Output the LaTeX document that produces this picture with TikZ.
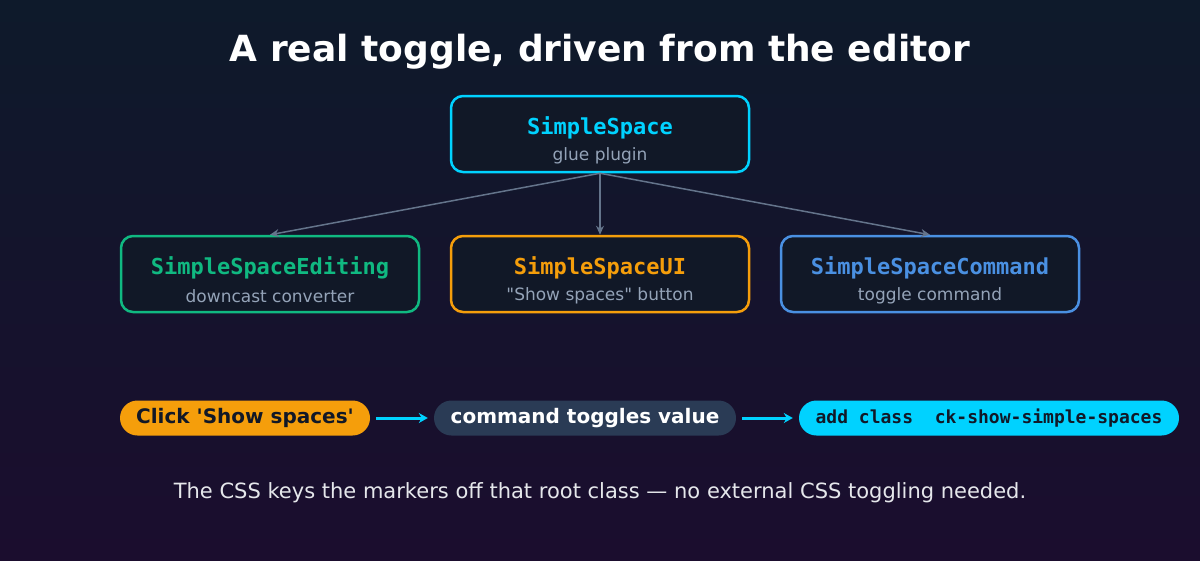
\documentclass[tikz,border=0pt]{standalone}
\usepackage{fontspec}
\setmainfont{DejaVu Sans}[Ligatures=TeXOff]
\newfontfamily\monof{DejaVu Sans Mono}[Ligatures=TeXOff]
\usetikzlibrary{arrows.meta}
\definecolor{bgtop}{HTML}{0E1A2B}
\definecolor{bgbot}{HTML}{1B0D2E}
\definecolor{boxfill}{HTML}{111827}
\definecolor{ccyan}{HTML}{00D2FF}
\definecolor{cgreen}{HTML}{10B981}
\definecolor{corange}{HTML}{F59E0B}
\definecolor{cblue}{HTML}{4A90E2}
\definecolor{cgray}{HTML}{64748B}
\definecolor{csub}{HTML}{94A3B8}
\definecolor{cpill}{HTML}{2A3B55}
\definecolor{cdark}{HTML}{111827}
\definecolor{cfoot}{HTML}{E5E7EB}
\tikzset{
  modbox/.style={draw=#1, line width=2.5pt, fill=boxfill, rounded corners=12pt,
    minimum width=298pt, minimum height=76pt, inner sep=0pt},
  modname/.style={text=#1, font=\monof\bfseries\fontsize{22}{26}\selectfont, inner sep=0pt},
  modsub/.style={text=csub, font=\fontsize{17}{20}\selectfont, inner sep=0pt},
  pill/.style={rounded corners=17.5pt, minimum height=35pt, inner sep=0pt},
  link/.style={draw=cgray, line width=1.5pt, -{Stealth[length=9pt,width=8pt]}},
  flow/.style={draw=ccyan, line width=3pt, -{Stealth[length=9pt,width=10pt]}, shorten <=6pt, shorten >=6pt},
}
\begin{document}
\begin{tikzpicture}[x=1pt,y=-1pt]
\shade[top color=bgtop, bottom color=bgbot] (0pt,0pt) rectangle (1200pt,-560pt);
\useasboundingbox (0,0) rectangle (1200,560);

\node[text=white, font=\bfseries\fontsize{36}{42}\selectfont] (title) at (600,52) {A real toggle, driven from the editor};

\node[modbox=ccyan] (top) at (600,134) {};
\node[modname=ccyan] (topn) at (600,128) {SimpleSpace};
\node[modsub] (tops) at (600,156) {glue plugin};

\node[modbox=cgreen] (edit) at (270,274) {};
\node[modname=cgreen] (editn) at (270,268) {SimpleSpaceEditing};
\node[modsub] (edits) at (270,296) {downcast converter};

\node[modbox=corange] (ui) at (600,274) {};
\node[modname=corange] (uin) at (600,268) {SimpleSpaceUI};
\node[modsub] (uis) at (600,296) {"Show spaces" button};

\node[modbox=cblue] (cmd) at (930,274) {};
\node[modname=cblue] (cmdn) at (930,268) {SimpleSpaceCommand};
\node[modsub] (cmds) at (930,296) {toggle command};

\draw[link] (top.south) -- (edit.north);
\draw[link] (top.south) -- (ui.north);
\draw[link] (top.south) -- (cmd.north);

\node[pill, fill=corange, minimum width=250pt, text=cdark, font=\bfseries\fontsize{20}{24}\selectfont] (p1) at (245,418) {Click 'Show spaces'};
\node[pill, fill=cpill, minimum width=302pt, text=white, font=\bfseries\fontsize{20}{24}\selectfont] (p2) at (585,418) {command toggles value};
\node[pill, fill=ccyan, minimum width=380pt, text=cdark, font=\monof\bfseries\fontsize{18}{22}\selectfont] (p3) at (989,418) {add class\ \ ck-show-simple-spaces};

\draw[flow] (p1.east) -- (p2.west);
\draw[flow] (p2.east) -- (p3.west);

\node[text=cfoot, font=\fontsize{21}{25}\selectfont] (foot) at (600,493) {The CSS keys the markers off that root class — no external CSS toggling needed.};
\end{tikzpicture}
\end{document}
